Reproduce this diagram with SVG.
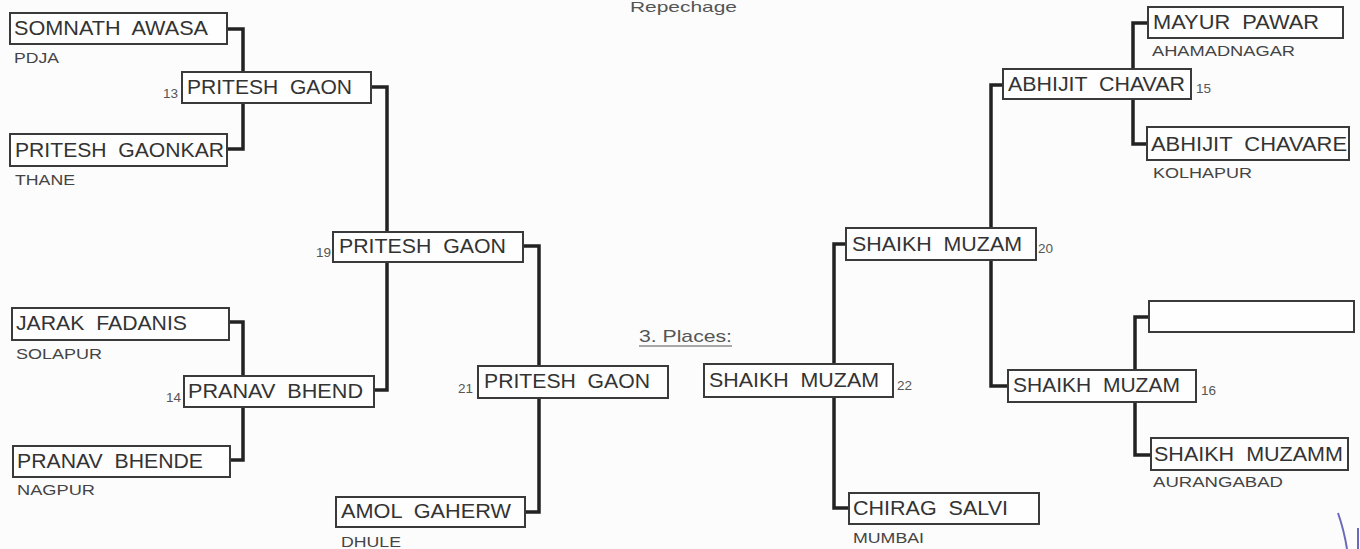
<svg xmlns="http://www.w3.org/2000/svg" width="1360" height="549" viewBox="0 0 1360 549">
<style>
.bg{fill:#fcfcfc}
.box{fill:#fefefe;stroke:#3a3a3a;stroke-width:2}
.con{fill:none;stroke:#222;stroke-width:3.5;stroke-linejoin:miter}
.nm{font-family:"Liberation Sans",Arial,sans-serif;font-size:20px;fill:#333;white-space:pre}
.cl{font-family:"Liberation Sans",Arial,sans-serif;font-size:15px;fill:#444}
.no{font-family:"Liberation Sans",Arial,sans-serif;font-size:13.5px;fill:#555}
.hd{font-family:"Liberation Sans",Arial,sans-serif;font-size:15px;fill:#555}
</style>
<rect class="bg" x="0" y="0" width="1360" height="549"/>
<text class="hd" x="630" y="12" textLength="107" lengthAdjust="spacingAndGlyphs">Repechage</text>

<g id="connectors">
<path class="con" d="M227,29 H243 V149 H227"/>
<path class="con" d="M371,87 H387 V390 H374"/>
<path class="con" d="M229,322 H243 V460 H230"/>
<path class="con" d="M523,246 H539 V512 H525"/>
<path class="con" d="M1148,23 H1133 V144 H1147"/>
<path class="con" d="M1003,85 H991 V386 H1008"/>
<path class="con" d="M1149,317 H1135 V455 H1151"/>
<path class="con" d="M846,244 H834 V508 H849"/>
</g>

<g id="n-somnath">
<rect class="box" x="10" y="13" width="217" height="31"/>
<text class="nm" x="14" y="35" textLength="194" lengthAdjust="spacingAndGlyphs">SOMNATH  AWASA</text>
<text class="cl" x="14" y="63" textLength="45" lengthAdjust="spacingAndGlyphs">PDJA</text>
</g>
<g id="n-pritesh-gaonkar">
<rect class="box" x="10" y="134" width="217" height="32"/>
<text class="nm" x="15" y="157" textLength="209" lengthAdjust="spacingAndGlyphs">PRITESH  GAONKAR</text>
<text class="cl" x="15" y="185" textLength="60" lengthAdjust="spacingAndGlyphs">THANE</text>
</g>
<g id="m13">
<rect class="box" x="182" y="72" width="189" height="31"/>
<text class="nm" x="187" y="94" textLength="165" lengthAdjust="spacingAndGlyphs">PRITESH  GAON</text>
<text class="no" x="163" y="98">13</text>
</g>
<g id="n-jarak">
<rect class="box" x="12" y="308" width="217" height="32"/>
<text class="nm" x="16" y="330" textLength="171" lengthAdjust="spacingAndGlyphs">JARAK  FADANIS</text>
<text class="cl" x="16" y="359" textLength="86" lengthAdjust="spacingAndGlyphs">SOLAPUR</text>
</g>
<g id="n-pranav-bhende">
<rect class="box" x="13" y="446" width="217" height="31"/>
<text class="nm" x="17" y="468" textLength="186" lengthAdjust="spacingAndGlyphs">PRANAV  BHENDE</text>
<text class="cl" x="17" y="495" textLength="78" lengthAdjust="spacingAndGlyphs">NAGPUR</text>
</g>
<g id="m14">
<rect class="box" x="184" y="376" width="190" height="31"/>
<text class="nm" x="188" y="398" textLength="175" lengthAdjust="spacingAndGlyphs">PRANAV  BHEND</text>
<text class="no" x="166" y="402">14</text>
</g>
<g id="m19">
<rect class="box" x="333" y="232" width="190" height="30"/>
<text class="nm" x="339" y="253" textLength="167" lengthAdjust="spacingAndGlyphs">PRITESH  GAON</text>
<text class="no" x="316" y="257">19</text>
</g>
<g id="m21">
<rect class="box" x="478" y="366" width="190" height="32"/>
<text class="nm" x="484" y="388" textLength="166" lengthAdjust="spacingAndGlyphs">PRITESH  GAON</text>
<text class="no" x="458" y="393">21</text>
</g>
<g id="n-amol">
<rect class="box" x="336" y="497" width="189" height="30"/>
<text class="nm" x="341" y="518" textLength="170" lengthAdjust="spacingAndGlyphs">AMOL  GAHERW</text>
<text class="cl" x="341" y="547" textLength="60" lengthAdjust="spacingAndGlyphs">DHULE</text>
</g>
<g id="label-3places">
<text class="hd" x="639" y="342" textLength="93" lengthAdjust="spacingAndGlyphs" style="font-size:17px">3. Places:</text>
<line x1="639" y1="346" x2="732" y2="346" stroke="#555" stroke-width="1"/>
</g>
<g id="m22">
<rect class="box" x="704" y="364" width="189" height="33"/>
<text class="nm" x="709" y="387" textLength="170" lengthAdjust="spacingAndGlyphs">SHAIKH  MUZAM</text>
<text class="no" x="897" y="390">22</text>
</g>
<g id="m20">
<rect class="box" x="846" y="228" width="190" height="32"/>
<text class="nm" x="852" y="251" textLength="170" lengthAdjust="spacingAndGlyphs">SHAIKH  MUZAM</text>
<text class="no" x="1038" y="253">20</text>
</g>
<g id="n-chirag">
<rect class="box" x="849" y="493" width="190" height="31"/>
<text class="nm" x="853" y="515" textLength="155" lengthAdjust="spacingAndGlyphs">CHIRAG  SALVI</text>
<text class="cl" x="853" y="543" textLength="71" lengthAdjust="spacingAndGlyphs">MUMBAI</text>
</g>
<g id="m15">
<rect class="box" x="1003" y="69" width="188" height="30"/>
<text class="nm" x="1008" y="91" textLength="177" lengthAdjust="spacingAndGlyphs">ABHIJIT  CHAVAR</text>
<text class="no" x="1196" y="93">15</text>
</g>
<g id="n-mayur">
<rect class="box" x="1148" y="7" width="195" height="31"/>
<text class="nm" x="1153" y="29" textLength="166" lengthAdjust="spacingAndGlyphs">MAYUR  PAWAR</text>
<text class="cl" x="1152" y="56" textLength="143" lengthAdjust="spacingAndGlyphs">AHAMADNAGAR</text>
</g>
<g id="n-abhijit-chavare">
<rect class="box" x="1147" y="127" width="202" height="33"/>
<text class="nm" x="1151" y="151" textLength="196" lengthAdjust="spacingAndGlyphs">ABHIJIT  CHAVARE</text>
<text class="cl" x="1153" y="178" textLength="99" lengthAdjust="spacingAndGlyphs">KOLHAPUR</text>
</g>
<g id="m16">
<rect class="box" x="1008" y="370" width="188" height="32"/>
<text class="nm" x="1013" y="392" textLength="167" lengthAdjust="spacingAndGlyphs">SHAIKH  MUZAM</text>
<text class="no" x="1201" y="395">16</text>
</g>
<g id="n-empty">
<rect class="box" x="1149" y="301" width="205" height="31"/>
</g>
<g id="n-shaikh-muzamm">
<rect class="box" x="1151" y="438" width="197" height="32"/>
<text class="nm" x="1154" y="461" textLength="189" lengthAdjust="spacingAndGlyphs">SHAIKH  MUZAMM</text>
<text class="cl" x="1153" y="487" textLength="130" lengthAdjust="spacingAndGlyphs">AURANGABAD</text>
</g>
<path d="M1338,513 Q1344,530 1347,549 M1358,528 V549" fill="none" stroke="#6a6ab8" stroke-width="2"/>
</svg>
